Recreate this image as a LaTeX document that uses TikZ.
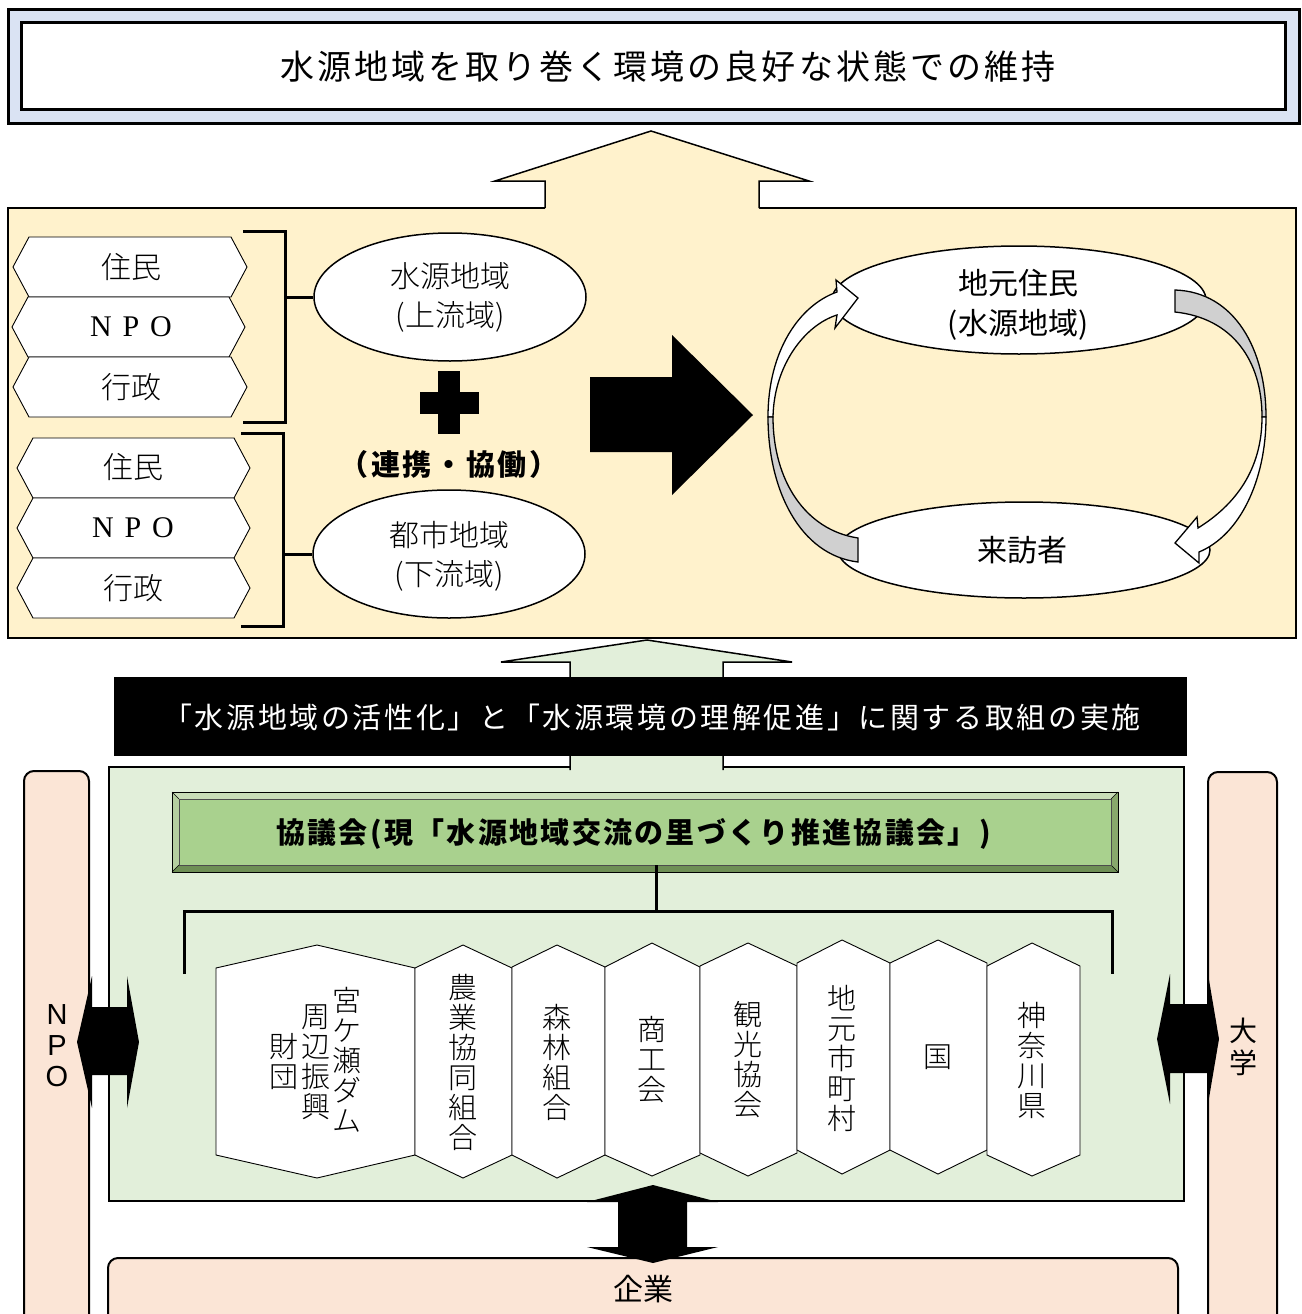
\documentclass[tikz,border=0pt]{standalone}
\usepackage{fontspec}
\usetikzlibrary{shapes.geometric}
\setmainfont{Liberation Serif}
\newfontfamily\jp{Noto Sans CJK JP}
\IfFontExistsTF{Noto Sans CJK JP Light}{\newfontfamily\jpl{Noto Sans CJK JP Light}}{\newfontfamily\jpl{Noto Sans CJK JP}}
\newfontfamily\lsans{Liberation Sans}
\definecolor{bluebg}{HTML}{DAE3F3}
\definecolor{yel}{HTML}{FFF2CC}
\definecolor{lgreen}{HTML}{E2EFDA}
\definecolor{mgreen}{HTML}{A9D18E}
\definecolor{peach}{HTML}{FBE5D6}
\definecolor{arrgray}{HTML}{D0D0D0}
\definecolor{bevtop}{HTML}{C9DDB8}
\definecolor{bevleft}{HTML}{B5CFA0}
\definecolor{bevbot}{HTML}{6E8F55}
\definecolor{bevright}{HTML}{88A86C}
\newcommand\hhex[3]{\draw[hexs] (#2,#1+30) -- (#2+16,#1) -- (#3-16,#1) -- (#3,#1+30) -- (#3-16,#1+60) -- (#2+16,#1+60) -- cycle;}
\newcommand\vhex[7]{\draw[hexs] (#1,#5) -- (#3,#4) -- (#2,#5) -- (#2,#6) -- (#3,#7) -- (#1,#6) -- cycle;}
\tikzset{
  ol/.style={draw=black, line width=2pt},
  hexs/.style={draw=black, fill=white, line width=0.9pt},
  thickln/.style={line width=3pt},
  mintxt/.style={font=\jpl\fontsize{30}{39}\selectfont, align=center, inner sep=0pt},
  vtxt/.style={font=\jpl\fontsize{29}{30}\selectfont, align=center, inner sep=0pt},
  gotxt/.style={font=\jp\fontsize{30}{40}\selectfont, align=center, inner sep=0pt},
  cyc/.style={draw=black, line width=1.3pt},
}
\begin{document}
\begin{tikzpicture}[x=1pt,y=-1pt]
\useasboundingbox (0,0) rectangle (1301,1314);
\clip (0,0) rectangle (1301,1314);
\fill[white] (0,0) rectangle (1301,1314);

% ---- goal banner
\draw[line width=3pt, fill=bluebg] (8,10) rectangle (1299,123);
\node[draw, line width=3pt, fill=white, minimum width=1264pt, minimum height=86pt, inner sep=0pt] (goal) at (653,66) {};
\node[anchor=west, inner sep=0pt, font=\jp\fontsize{34}{34}\selectfont\addfontfeature{LetterSpace=9}] (goaltxt) at (280,67) {水源地域を取り巻く環境の良好な状態での維持};

% ---- yellow panel and arrow
\draw[ol, fill=yel] (8,208) rectangle (1296,638);
\path[fill=yel] (545,211) -- (545,181) -- (495,181) -- (651,131) -- (809,181) -- (759,181) -- (759,211) -- cycle;
\draw[line width=1.5pt, line join=miter] (545,208) -- (545,181) -- (495,181) -- (651,131) -- (809,181) -- (759,181) -- (759,208);

% left hexagons group 1
\hhex{237}{13}{247}
\hhex{297}{12}{245}
\hhex{357}{13}{247}
\node[mintxt] (r1) at (131,267) {住民};
\node[inner sep=0pt, font=\fontsize{30}{30}\selectfont] (n1) at (131,327) {N\hspace{10.8pt}P\hspace{10.8pt}O};
\node[mintxt] (g1) at (131,387) {行政};
% group 2
\hhex{438}{17}{250}
\hhex{498}{17}{250}
\hhex{558}{17}{250}
\node[mintxt] (r2) at (133,467) {住民};
\node[inner sep=0pt, font=\fontsize{30}{30}\selectfont] (n2) at (133,528) {N\hspace{10.8pt}P\hspace{10.8pt}O};
\node[mintxt] (g2) at (133,588) {行政};

% ellipses
\node[ellipse, draw, line width=1.5pt, fill=white, minimum width=272pt, minimum height=128pt, inner sep=0pt] (up) at (450,297) {};
\node[mintxt] (uptxt) at (450,297) {水源地域\\(上流域)};
\node[ellipse, draw, line width=1.5pt, fill=white, minimum width=272pt, minimum height=128pt, inner sep=0pt] (down) at (449,554) {};
\node[mintxt] (downtxt) at (449,556) {都市地域\\(下流域)};

% brackets
\draw[thickln] (243,231) -- (285,231) -- (285,422) -- (243,422);
\draw[thickln] (285,297) -- (up.west);
\draw[thickln] (241,433) -- (283,433) -- (283,626) -- (241,626);
\draw[thickln] (283,554) -- (down.west);

% plus
\fill[black] (420,392) rectangle (479,414);
\fill[black] (438,371) rectangle (460,434);
\node[inner sep=0pt, font=\jp\bfseries\fontsize{29}{29}\selectfont\addfontfeature{LetterSpace=9}] (renkei) at (449,464) {（連携・協働）};

% big arrow
\fill[black] (590,377) -- (672,377) -- (672,335) -- (753,415) -- (672,495) -- (672,452) -- (590,452) -- cycle;

% right cycle
\node[ellipse, draw, line width=1.5pt, fill=white, minimum width=374pt, minimum height=108pt, inner sep=0pt] (top) at (1019,300) {};
\node[gotxt] (toptxt) at (1018,305) {地元住民\\(水源地域)};
\node[ellipse, draw, line width=1.5pt, fill=white, minimum width=372pt, minimum height=96pt, inner sep=0pt] (bot) at (1024,550) {};
\node[gotxt] (bottxt) at (1022,550) {来訪者};

\draw[cyc, fill=white, line join=miter] (768,417) .. controls (768,350) and (800,305) .. (837,292) -- (836,280) -- (858,298) -- (835,328) -- (837,315) .. controls (805,325) and (774,365) .. (773,417) -- cycle;
\draw[cyc, fill=arrgray] (768,417) .. controls (768,490) and (800,555) .. (858,562) -- (858,538) .. controls (805,530) and (773,480) .. (773,417) -- cycle;
\draw[cyc, fill=arrgray] (1175,290) .. controls (1235,292) and (1266,350) .. (1266,417) -- (1262,417) .. controls (1262,360) and (1232,318) .. (1175,312) -- cycle;
\draw[cyc, fill=white, line join=miter] (1266,417) .. controls (1266,480) and (1240,535) .. (1199,552) -- (1199,563) -- (1175,543) -- (1197,517) -- (1198,528) .. controls (1235,505) and (1262,470) .. (1262,417) -- cycle;

% ---- side bars
\draw[ol, fill=peach, rounded corners=10pt] (24,771) rectangle (89,1345);
\draw[ol, fill=peach, rounded corners=10pt] (1208,772) rectangle (1277,1345);
\draw[ol, fill=peach, rounded corners=10pt] (108,1258) rectangle (1178,1345);
\node[inner sep=0pt, align=center, font=\lsans\fontsize{29}{31}\selectfont] (npo) at (57,1046) {N\\P\\O};
\node[inner sep=0pt, align=center, font=\jp\fontsize{28}{32}\selectfont] (daigaku) at (1243,1047) {大\\学};
\node[inner sep=0pt, font=\jp\fontsize{30}{30}\selectfont] (kigyo) at (643,1289) {企業};

% ---- green panel and arrow
\draw[ol, fill=lgreen] (109,767) rectangle (1184,1201);
\path[fill=lgreen] (570,770) -- (570,662) -- (501,662) -- (647,640) -- (792,662) -- (723,662) -- (723,770) -- cycle;
\draw[line width=1.5pt, line join=miter] (570,770) -- (570,662) -- (501,662) -- (647,640) -- (792,662) -- (723,662) -- (723,770);
\fill[black] (114,677) rectangle (1187,756);
\node[inner sep=0pt, text=white, font=\jp\fontsize{29}{29}\selectfont\addfontfeature{LetterSpace=9}] (banner) at (652,717) {「水源地域の活性化」と「水源環境の理解促進」に関する取組の実施};

% council box (bevel)
\fill[bevtop] (172,792) -- (1118,792) -- (1111,799) -- (179,799) -- cycle;
\fill[bevleft] (172,792) -- (179,799) -- (179,865) -- (172,872) -- cycle;
\fill[bevbot] (172,872) -- (179,865) -- (1111,865) -- (1118,872) -- cycle;
\fill[bevright] (1118,792) -- (1111,799) -- (1111,865) -- (1118,872) -- cycle;
\draw[line width=0.8pt] (172,792) rectangle (1118,872);
\draw[line width=0.5pt] (172,792) -- (179,799) (1118,792) -- (1111,799) (172,872) -- (179,865) (1118,872) -- (1111,865);
\node[draw=black!70, line width=0.6pt, fill=mgreen, minimum width=932pt, minimum height=66pt, inner sep=0pt] (kyogi) at (645,832) {};
\node[anchor=west, inner sep=0pt, font=\jp\bfseries\fontsize{29}{29}\selectfont\addfontfeature{LetterSpace=8}] (kyogitxt) at (276,834) {協議会(現「水源地域交流の里づくり推進協議会」)};

% tree connector
\coordinate (j) at (656,911);
\draw[thickln] (kyogi.south -| j) -- (j);
\draw[thickln] (184,974) -- (184,911) -- (1112,911) -- (1112,974);

% member columns
\vhex{216}{415}{317}{945}{968}{1155}{1178}
\vhex{415}{512}{463}{945}{968}{1155}{1178}
\vhex{512}{605}{557}{945}{967}{1155}{1178}
\vhex{605}{700}{652}{943}{967}{1155}{1176}
\vhex{700}{797}{748}{943}{966}{1153}{1176}
\vhex{797}{890}{842}{940}{963}{1150}{1174}
\vhex{890}{987}{938}{940}{963}{1150}{1174}
\vhex{987}{1080}{1032}{943}{966}{1155}{1176}
\node[vtxt] (m1a) at (347,1060) {宮\\ケ\\瀬\\ダ\\ム};
\node[vtxt] (m1b) at (316,1062) {周\\辺\\振\\興};
\node[vtxt] (m1c) at (284,1062) {財\\団};
\node[vtxt] (m2) at (463,1062) {農\\業\\協\\同\\組\\合};
\node[vtxt] (m3) at (557,1062) {森\\林\\組\\合};
\node[vtxt] (m4) at (652,1060) {商\\工\\会};
\node[vtxt] (m5) at (748,1060) {観\\光\\協\\会};
\node[vtxt] (m6) at (842,1058) {地\\元\\市\\町\\村};
\node[vtxt] (m7) at (938,1057) {国};
\node[vtxt] (m8) at (1032,1060) {神\\奈\\川\\県};

% double arrows
\fill[black] (77,1042) -- (92,976) -- (92,1007) -- (127,1007) -- (127,976) -- (139,1042) -- (127,1108) -- (127,1075) -- (92,1075) -- (92,1108) -- cycle;
\fill[black] (1157,1039) -- (1170,974) -- (1170,1004) -- (1208,1004) -- (1208,974) -- (1219,1039) -- (1208,1104) -- (1208,1073) -- (1170,1073) -- (1170,1104) -- cycle;
\fill[black] (653,1185) -- (718,1202) -- (687,1202) -- (687,1247) -- (718,1247) -- (653,1263) -- (587,1247) -- (618,1247) -- (618,1202) -- (587,1202) -- cycle;
\end{tikzpicture}
\end{document}
